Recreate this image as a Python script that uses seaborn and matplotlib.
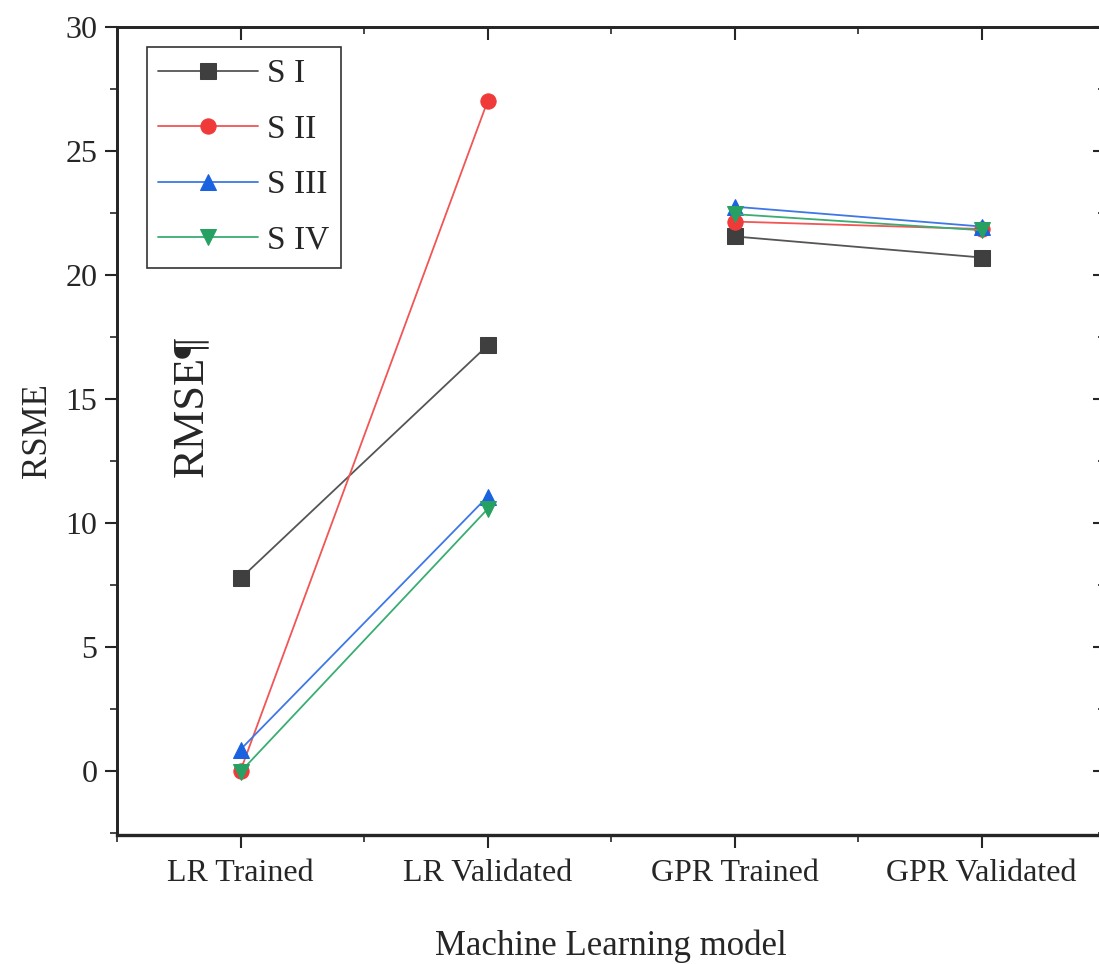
import numpy as np
import pandas as pd
import matplotlib
matplotlib.use("Agg")
import matplotlib.pyplot as plt
import seaborn as sns
from matplotlib.ticker import MultipleLocator, FixedLocator

# data
models = ["LR Trained", "LR Validated", "GPR Trained", "GPR Validated"]
groups = ["LR", "LR", "GPR", "GPR"]
series = ["S I", "S II", "S III", "S IV"]
s1 = [7.75, 17.15, 21.55, 20.7]
s2 = [0.0, 27.0, 22.15, 21.85]
s3 = [0.85, 11.05, 22.75, 21.95]
s4 = [-0.05, 10.55, 22.45, 21.8]

colors = ["#3f3f3f", "#f03a3a", "#1b62e0", "#27a162"]
line_colors = ["#555555", "#f25555", "#3d78e6", "#3aad72"]
markers = ["s", "o", "^", "v"]

rows = []
for name, vals in zip(series, [s1, s2, s3, s4]):
    for i, (m, g, v) in enumerate(zip(models, groups, vals)):
        rows.append({"series": name, "model": m, "group": g, "pos": i, "RMSE": v})
df = pd.DataFrame(rows)

sns.set_style("ticks")
plt.rcParams["font.family"] = ["Liberation Serif", "DejaVu Serif"]
plt.rcParams["axes.linewidth"] = 1.8

fig = plt.figure(figsize=(10.99, 9.64), dpi=100)
ax = fig.add_axes([0.1065, 0.1338, 0.899, 0.8382])

for k, name in enumerate(series):
    for j, g in enumerate(["LR", "GPR"]):
        sub = df[(df["series"] == name) & (df["group"] == g)]
        sns.lineplot(data=sub, x="pos", y="RMSE", ax=ax, estimator=None, sort=False,
                     color=line_colors[k], linewidth=1.3, marker=markers[k],
                     markersize=11, markerfacecolor=colors[k], markeredgecolor=colors[k],
                     label=name if j == 0 else "_nolegend_")

ax.set_xlim(-0.5, 3.5)
ax.set_ylim(-2.6, 30)
ax.set_xticks(range(len(models)))
ax.set_xticklabels(models)
ax.xaxis.set_minor_locator(FixedLocator([-0.5, 0.5, 1.5, 2.5, 3.5]))
ax.yaxis.set_major_locator(MultipleLocator(5))
ax.yaxis.set_minor_locator(MultipleLocator(2.5))
ax.tick_params(which="major", direction="out", length=9, width=1.5, labelsize=23, pad=5)
ax.tick_params(which="minor", direction="out", length=5, width=1.2)
ax.tick_params(axis="x", which="major", pad=8)
ax.set_xlabel("Machine Learning model", fontsize=25, labelpad=30)
ax.set_ylabel("RSME", fontsize=25, labelpad=8)

# mirrored inward ticks on the top and right, as in the original
ax_r = ax.twinx()
ax_r.set_ylim(ax.get_ylim())
ax_r.yaxis.set_major_locator(MultipleLocator(5))
ax_r.yaxis.set_minor_locator(MultipleLocator(2.5))
ax_r.tick_params(which="major", direction="in", length=9, width=1.5, labelright=False)
ax_r.tick_params(which="minor", direction="in", length=5, width=1.2)
ax_t = ax.twiny()
ax_t.set_xlim(ax.get_xlim())
ax_t.set_xticks(range(len(models)))
ax_t.xaxis.set_minor_locator(FixedLocator([-0.5, 0.5, 1.5, 2.5, 3.5]))
ax_t.tick_params(which="major", direction="in", length=9, width=1.5, labeltop=False)
ax_t.tick_params(which="minor", direction="in", length=5, width=1.2)
ax.spines["bottom"].set_linewidth(2.4)

ax.text(0.075, 0.53, "RMSE\u00b6", transform=ax.transAxes, rotation=90,
        fontsize=32, ha="center", va="center")

leg = ax.legend(loc="upper left", bbox_to_anchor=(0.03, 0.975), borderaxespad=0,
                fontsize=24, handlelength=3.0, labelspacing=0.75, fancybox=False,
                framealpha=1, borderpad=0.35, handletextpad=0.25)
leg.get_frame().set_edgecolor("#333333")
leg.get_frame().set_linewidth(1.2)

fig.savefig("out.png", dpi=100)
